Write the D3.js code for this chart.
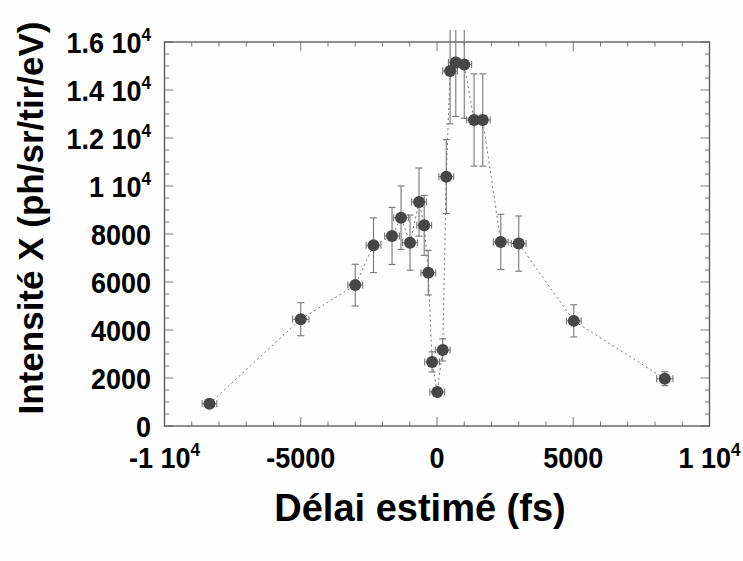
<!DOCTYPE html>
<html>
<head>
<meta charset="utf-8">
<script src="https://cdn.jsdelivr.net/npm/d3@7"></script>
<style>
  html, body { margin: 0; padding: 0; background: #fdfdfd; }
  svg { display: block; font-family: "Liberation Sans", Arial, sans-serif; font-weight: bold; }
</style>
</head>
<body>
<div id="c1"></div>
<script>
// Data
var delay     = [-8350, -5000, -3000, -2330, -1650, -1320, -990, -660, -470, -320, -180, 10, 210, 340, 480, 690, 1000, 1360, 1680, 2340, 3000, 5020, 8360];
var intensity = [930, 4450, 5870, 7530, 7920, 8680, 7640, 9330, 8360, 6390, 2670, 1420, 3170, 10390, 14790, 15150, 15060, 12750, 12750, 7670, 7600, 4380, 1970];
var yErr      = [100, 690, 870, 1140, 1190, 1320, 1150, 1420, 1250, 930, 420, 150, 460, 1540, 2200, 2250, 2240, 1920, 1920, 1150, 1150, 670, 290];
var xErr      = [270, 300, 270, 270, 270, 270, 270, 270, 270, 270, 270, 270, 270, 270, 270, 270, 270, 270, 270, 270, 270, 270, 300];

var xTicks = [-10000, -5000, 0, 5000, 10000];
var yTicks = [0, 2000, 4000, 6000, 8000, 10000, 12000, 14000, 16000];

var xTitle = "Délai estimé (fs)";
var yTitle = "Intensité X (ph/sr/tir/eV)";

var w = 743, h = 561;
var pLeft = 164.5, pRight = 709.5, pTop = 42, pBottom = 426;
var squeeze = 0.9;   // the lettering is a bit narrow in the original

var svg = d3.select("#c1").append("svg")
    .attr("width", w)
    .attr("height", h);

svg.append("rect").attr("width", w).attr("height", h).attr("fill", "#fdfdfd");

var x = d3.scaleLinear().domain([-10000, 10000]).range([pLeft, pRight]);
var y = d3.scaleLinear().domain([0, 16000]).range([pBottom, pTop]);

var pts = delay.map(function (d, i) {
    return { x: d, y: intensity[i], ey: yErr[i], ex: xErr[i] };
});

// Ticks, inward, on all four sides
var minorX = d3.range(-10000, 10001, 1000);
var minorY = d3.range(0, 16001, 500);
var tk = svg.append("g").attr("stroke", "#7a7a7a").attr("stroke-width", 1);

minorX.forEach(function (v) {
    var len = (v % 5000 == 0) ? 9 : 4.5;
    tk.append("line").attr("x1", x(v)).attr("x2", x(v)).attr("y1", pBottom).attr("y2", pBottom - len);
    tk.append("line").attr("x1", x(v)).attr("x2", x(v)).attr("y1", pTop).attr("y2", pTop + len);
});
minorY.forEach(function (v) {
    var len = (v % 2000 == 0) ? 9 : 4.5;
    tk.append("line").attr("x1", pLeft).attr("x2", pLeft + len).attr("y1", y(v)).attr("y2", y(v));
    tk.append("line").attr("x1", pRight).attr("x2", pRight - len).attr("y1", y(v)).attr("y2", y(v));
});

// Frame
svg.append("rect")
    .attr("x", pLeft).attr("y", pTop)
    .attr("width", pRight - pLeft).attr("height", pBottom - pTop)
    .attr("fill", "none")
    .attr("stroke", "#555")
    .attr("stroke-width", 1.3);

// Dotted connecting line
svg.append("path")
    .datum(pts)
    .attr("fill", "none")
    .attr("stroke", "#777")
    .attr("stroke-width", 1)
    .attr("stroke-dasharray", "2,3")
    .attr("d", d3.line().x(function (d) { return x(d.x); }).y(function (d) { return y(d.y); }));

// Error bars (clipped a little above the frame)
svg.append("clipPath").attr("id", "clip")
    .append("rect").attr("x", 0).attr("y", 30).attr("width", w).attr("height", h - 30);

var eb = svg.append("g")
    .attr("clip-path", "url(#clip)")
    .attr("stroke", "#777")
    .attr("stroke-width", 1.1);

var cap = 3.5;
pts.forEach(function (d) {
    var cx = x(d.x), cy = y(d.y);
    var y1 = y(d.y + d.ey), y2 = y(d.y - d.ey);
    var x1 = x(d.x - d.ex), x2 = x(d.x + d.ex);
    eb.append("line").attr("x1", cx).attr("x2", cx).attr("y1", y1).attr("y2", y2);
    eb.append("line").attr("x1", cx - cap).attr("x2", cx + cap).attr("y1", y1).attr("y2", y1);
    eb.append("line").attr("x1", cx - cap).attr("x2", cx + cap).attr("y1", y2).attr("y2", y2);
    eb.append("line").attr("x1", x1).attr("x2", x2).attr("y1", cy).attr("y2", cy);
    eb.append("line").attr("x1", x1).attr("x2", x1).attr("y1", cy - cap).attr("y2", cy + cap);
    eb.append("line").attr("x1", x2).attr("x2", x2).attr("y1", cy - cap).attr("y2", cy + cap);
});

// Points
svg.selectAll("circle.pt")
    .data(pts)
    .enter()
    .append("circle")
    .attr("class", "pt")
    .attr("cx", function (d) { return x(d.x); })
    .attr("cy", function (d) { return y(d.y); })
    .attr("r", 6)
    .attr("fill", "#474747");

// Tick labels, "1.6 10^4" style for the big ones
function writeLabel(sel, v) {
    if (Math.abs(v) >= 10000) {
        sel.append("tspan").text(String(v / 10000) + " 10");
        sel.append("tspan").attr("font-size", 19).attr("dy", -11.5).text("4");
    } else {
        sel.text(String(v));
    }
}

function label(px, py, anchor, v) {
    var t = svg.append("g")
        .attr("transform", "translate(" + px + "," + py + ") scale(" + squeeze + ",1)")
        .append("text")
        .attr("text-anchor", anchor)
        .attr("font-size", 30)
        .attr("fill", "#000");
    writeLabel(t, v);
}

yTicks.forEach(function (v) {
    label(151, y(v) + 10.5, "end", v);
});

xTicks.forEach(function (v) {
    label(x(v), 467.5, "middle", v);
});

// Axis titles
svg.append("text")
    .attr("x", 420)
    .attr("y", 521)
    .attr("text-anchor", "middle")
    .attr("font-size", 38)
    .text(xTitle);

svg.append("text")
    .attr("transform", "translate(43,218) rotate(-90)")
    .attr("text-anchor", "middle")
    .attr("font-size", 35)
    .text(yTitle);
</script>
</body>
</html>
